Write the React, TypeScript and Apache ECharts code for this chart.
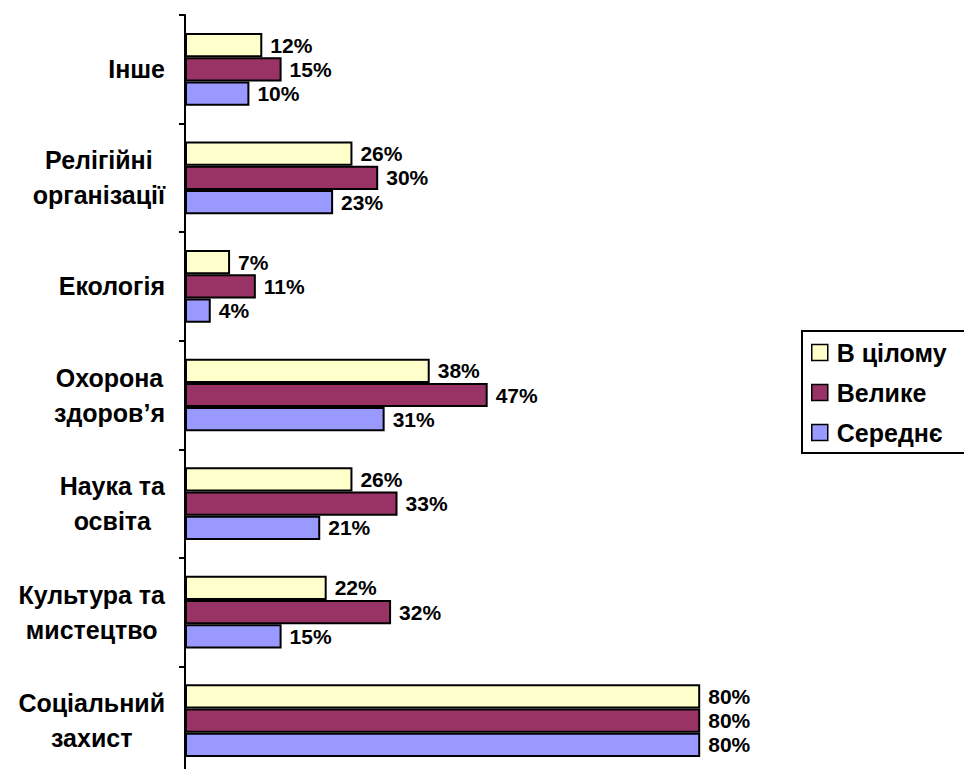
import React, { useEffect, useRef } from "react";
import * as echarts from "echarts";

const categories = [
  "Інше",
  "Релігійні\nорганізації",
  "Екологія",
  "Охорона\nздоров’я",
  "Наука та\nосвіта",
  "Культура та\nмистецтво",
  "Соціальний\nзахист",
];
const seriesNames = ["В цілому", "Велике", "Середнє"];
const overall = [12, 26, 7, 38, 26, 22, 80];
const large = [15, 30, 11, 47, 33, 32, 80];
const medium = [10, 23, 4, 31, 21, 15, 80];
const colors = ["#FFFFCC", "#993366", "#9999FF"];

const FONT = "'Liberation Sans', Arial, sans-serif";

export default function App() {
  const ref = useRef<HTMLDivElement>(null);
  useEffect(() => {
    if (!ref.current) return;
    const chart = echarts.init(ref.current, null, { renderer: "svg" });
    const values = [overall, large, medium];
    chart.setOption({
      animation: false,
      backgroundColor: "#ffffff",
      textStyle: { fontFamily: FONT },
      grid: {
        left: 185,
        top: 15,
        right: 135,
        bottom: -6,
        containLabel: false,
        outerBoundsMode: "none",
      },
      xAxis: {
        type: "value",
        min: 0,
        max: 100,
        show: false,
        splitLine: { show: false },
      },
      yAxis: {
        type: "category",
        inverse: true,
        data: categories,
        axisLine: { show: true, lineStyle: { color: "#000", width: 2 } },
        axisTick: { show: true, length: 6, lineStyle: { color: "#000", width: 2 } },
        axisLabel: {
          margin: 20,
          align: "right",
          formatter: (v: string) =>
            v
              .split("\n")
              .map((l) => `{a|${l}}`)
              .join("\n"),
          rich: {
            a: {
              align: "center",
              fontSize: 25,
              fontWeight: "bold",
              fontFamily: FONT,
              color: "#000",
              lineHeight: 35,
            },
          },
        },
      },
      legend: {
        orient: "vertical",
        left: 811,
        top: 340,
        padding: 0,
        itemWidth: 16,
        itemHeight: 16,
        itemGap: 15,
        icon: "rect",
        data: seriesNames,
        itemStyle: { borderColor: "#000", borderWidth: 1.5 },
        textStyle: {
          fontSize: 25,
          fontWeight: "bold",
          color: "#000",
          fontFamily: FONT,
          lineHeight: 25,
          padding: [0, 0, 0, 4],
        },
      },
      graphic: [
        {
          type: "rect",
          shape: { x: 802, y: 331, width: 200, height: 122 },
          style: { fill: "none", stroke: "#000", lineWidth: 2 },
          silent: true,
        },
      ],
      series: seriesNames.map((name, i) => ({
        name,
        type: "bar",
        data: values[i],
        barGap: "0%",
        barCategoryGap: "33%",
        itemStyle: { color: colors[i], borderColor: "#000", borderWidth: 2 },
        label: {
          show: true,
          position: "right",
          distance: 8,
          formatter: "{c}%",
          fontSize: 21,
          fontWeight: "bold",
          color: "#000",
          fontFamily: FONT,
        },
      })),
    });
    return () => chart.dispose();
  }, []);
  return (
    <div
      ref={ref}
      style={{ position: "fixed", left: 0, top: 0, width: 964, height: 769, background: "#fff" }}
    />
  );
}
